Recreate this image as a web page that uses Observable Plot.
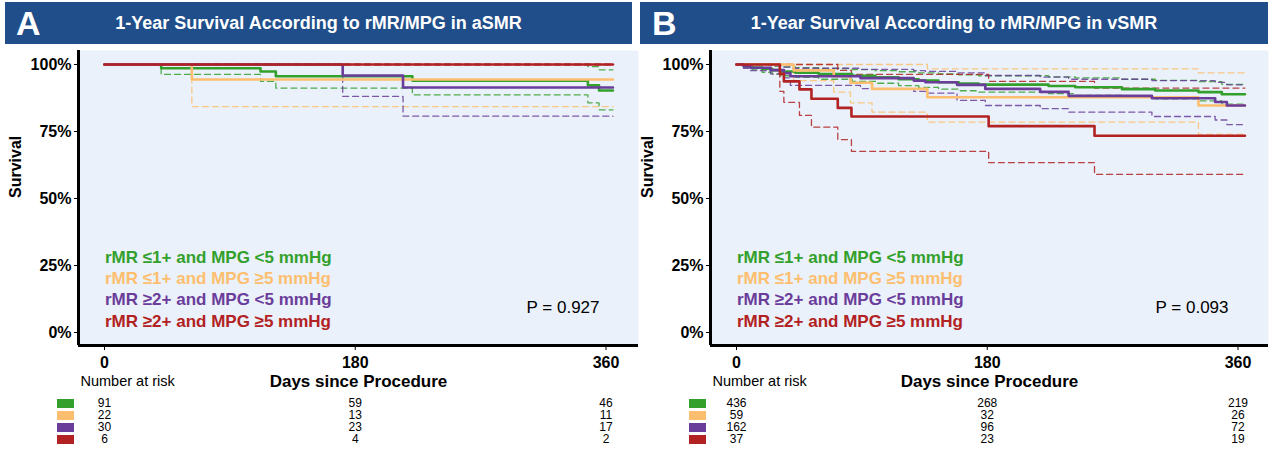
<!DOCTYPE html>
<html>
<head>
<meta charset="utf-8">
<script src="https://cdn.jsdelivr.net/npm/d3@7"></script>
<script src="https://cdn.jsdelivr.net/npm/@observablehq/plot@0.6"></script>
<style>
  body { margin: 0; background: #fff; }
  #fig { position: relative; width: 1273px; height: 449px; overflow: hidden; font-family: "Liberation Sans", Arial, sans-serif; }
  .band { position: absolute; top: 2px; height: 42px; background: #1f4e8a; color: #fff; }
  .band .letter { position: absolute; top: 0; height: 42px; line-height: 42px; font-size: 34px; font-weight: bold; }
  .band .title { position: absolute; left: 0; right: 0; top: 0; height: 42px; line-height: 42px; text-align: center; font-size: 18px; font-weight: bold; }
  svg { position: absolute; }
</style>
</head>
<body>
<div id="fig"></div>
<script>
// ---------- data ----------
const groups = ["rMR ≤1+ and MPG <5 mmHg", "rMR ≤1+ and MPG ≥5 mmHg", "rMR ≥2+ and MPG <5 mmHg", "rMR ≥2+ and MPG ≥5 mmHg"];
const colors = ["#33A02C", "#FDBF6F", "#6A3D9A", "#B22222"];
const yTicks = [0, 25, 50, 75, 100];
const xTicks = [0, 180, 360];
const riskDays = [0, 180, 360];
const riskA = [[91, 59, 46], [22, 13, 11], [30, 23, 17], [6, 4, 2]];
const riskB = [[436, 268, 219], [59, 32, 26], [162, 96, 72], [37, 23, 19]];
const titleA = "1-Year Survival According to rMR/MPG in aSMR";
const titleB = "1-Year Survival According to rMR/MPG in vSMR";
const pA = "P = 0.927";
const pB = "P = 0.093";

// Panel A (aSMR) Kaplan-Meier curves: days, survival %, lower / upper CI %
const aGreenDay  = [0, 40.7, 112, 123, 221, 347, 355, 365];
const aGreenSurv = [100, 98.6, 97.4, 95.6, 94.0, 92.2, 90.3, 90.3];
const aGreenLow  = [100, 96.3, 93.7, 91.2, 88.7, 85.7, 83.1, 83.1];
const aGreenHigh = [100, 100, 100, 100, 100, 99.2, 98.0, 98.0];

const aOrangeDay  = [0, 62.7, 365];
const aOrangeSurv = [100, 94.4, 94.4];
const aOrangeLow  = [100, 84.3, 84.3];
const aOrangeHigh = [100, 100, 100];

const aPurpleDay  = [0, 171, 214.3, 365];
const aPurpleSurv = [100, 95.9, 91.4, 91.4];
const aPurpleLow  = [100, 88.1, 80.7, 80.7];
const aPurpleHigh = [100, 100, 100, 100];

const aRedDay  = [0, 365];
const aRedSurv = [100, 100];
const aRedLow  = [100, 100];
const aRedHigh = [100, 100];

// Panel B (vSMR)
const bGreenDay  = [0, 5.2, 11.2, 18.4, 25.6, 31.6, 42.3, 59, 83, 99.7, 116.4, 130.8, 145, 159.5, 173.8, 224, 243.2, 276.7, 300.6, 331.6, 348.4, 365];
const bGreenSurv = [100, 99.5, 98.9, 98.4, 97.9, 97.4, 96.9, 96.4, 95.8, 95.2, 94.5, 94.0, 93.4, 92.9, 92.5, 92.0, 91.5, 90.8, 90.3, 89.7, 88.9, 88.9];
const bGreenLow  = [100, 98.9, 98.0, 97.1, 96.4, 95.8, 95.2, 94.5, 93.7, 93.0, 92.1, 91.5, 90.8, 90.2, 89.7, 89.1, 88.5, 87.7, 87.2, 86.4, 85.2, 85.2];
const bGreenHigh = [100, 100, 100, 99.8, 99.4, 99.1, 98.8, 98.5, 98.1, 97.7, 97.3, 96.9, 96.5, 96.1, 95.8, 95.4, 95.0, 94.5, 94.1, 93.6, 92.6, 92.6];

const bOrangeDay  = [0, 41, 69.8, 81.8, 97.3, 137, 331.6, 365];
const bOrangeSurv = [100, 97.8, 95.6, 93.2, 90.9, 87.8, 84.7, 84.7];
const bOrangeLow  = [100, 94.0, 89.7, 85.7, 82.2, 78.5, 73.9, 73.9];
const bOrangeHigh = [100, 100, 100, 100, 100, 98.4, 96.9, 96.9];

const bPurpleDay  = [0, 5, 10, 24.4, 34, 38.7, 89, 127.2, 135.6, 158.3, 178.6, 218, 238.4, 298.2, 343.6, 352, 365];
const bPurpleSurv = [100, 99.4, 98.8, 97.9, 96.8, 95.6, 94.9, 94.0, 93.4, 92.4, 90.9, 89.8, 88.3, 87.4, 86.0, 84.7, 84.7];
const bPurpleLow  = [100, 98.6, 97.7, 96.5, 95.0, 92.2, 91.0, 90.0, 89.3, 86.6, 84.7, 83.5, 82.2, 80.6, 79.3, 77.6, 77.6];
const bPurpleHigh = [100, 100, 100, 99.5, 99.0, 98.6, 98.2, 97.7, 97.4, 96.9, 95.9, 95.3, 94.5, 94.0, 93.3, 92.4, 92.4];

const bRedDay  = [0, 31.1, 34, 45.2, 53.8, 72.7, 82.5, 181, 257, 365];
const bRedSurv = [100, 96.5, 93.7, 90.7, 87.2, 83.8, 80.6, 77.0, 73.4, 73.4];
const bRedLow  = [100, 90.0, 85.9, 81.0, 76.6, 72.0, 67.6, 63.4, 59.0, 59.0];
const bRedHigh = [100, 100, 100, 100, 100, 97.8, 96.3, 93.7, 91.2, 91.2];

// ---------- helpers ----------
const BG = "#EAF1FA";
const FONT = "'Liberation Sans', Arial, sans-serif";
function rows(day, surv, low, high) {
  return day.map((t, i) => ({t, s: surv[i], lo: low[i], hi: high[i]}));
}
const curvesA = [
  rows(aGreenDay, aGreenSurv, aGreenLow, aGreenHigh),
  rows(aOrangeDay, aOrangeSurv, aOrangeLow, aOrangeHigh),
  rows(aPurpleDay, aPurpleSurv, aPurpleLow, aPurpleHigh),
  rows(aRedDay, aRedSurv, aRedLow, aRedHigh)
];
const curvesB = [
  rows(bGreenDay, bGreenSurv, bGreenLow, bGreenHigh),
  rows(bOrangeDay, bOrangeSurv, bOrangeLow, bOrangeHigh),
  rows(bPurpleDay, bPurpleSurv, bPurpleLow, bPurpleHigh),
  rows(bRedDay, bRedSurv, bRedLow, bRedHigh)
];
const rectSymbol = { draw(ctx) { ctx.rect(-8.5, -4.5, 17, 9); } };

function panel(cfg) {
  const fig = document.getElementById("fig");
  const wrap = document.createElement("div");
  wrap.style.cssText = `position:absolute;left:${cfg.left}px;top:0;width:642px;height:449px;`;
  fig.appendChild(wrap);

  const band = document.createElement("div");
  band.className = "band";
  band.style.left = cfg.bandLeft + "px";
  band.style.width = cfg.bandWidth + "px";
  band.innerHTML = `<div class="title"></div><div class="letter"></div>`;
  band.querySelector(".title").textContent = cfg.title;
  band.querySelector(".letter").textContent = cfg.letter;
  band.querySelector(".letter").style.left = cfg.letterLeft + "px";
  wrap.appendChild(band);

  const marks = [Plot.frame({fill: BG, stroke: "none"})];
  cfg.curves.forEach((c, i) => {
    marks.push(Plot.line(c, {x: "t", y: "lo", curve: "step-after", stroke: colors[i], strokeWidth: 1.3, strokeDasharray: "6,4", strokeOpacity: 0.85}));
    marks.push(Plot.line(c, {x: "t", y: "hi", curve: "step-after", stroke: colors[i], strokeWidth: 1.3, strokeDasharray: "6,4", strokeOpacity: 0.85}));
  });
  cfg.curves.forEach((c, i) => {
    marks.push(Plot.line(c, {x: "t", y: "s", curve: "step-after", stroke: colors[i], strokeWidth: 2.6}));
  });
  marks.push(Plot.ruleX([0], {dx: -26, stroke: "black", strokeWidth: 3}));
  marks.push(Plot.ruleY([0], {dy: 13, stroke: "black", strokeWidth: 3}));
  marks.push(Plot.text(["Survival"], {text: d => d, frameAnchor: "left", dx: -63, rotate: -90, lineAnchor: "middle", fontSize: 16, fontWeight: "bold", fill: "black"}));
  marks.push(Plot.text(["Days since Procedure"], {text: d => d, frameAnchor: "bottom", lineAnchor: "middle", dy: 36, fontSize: 17, fontWeight: "bold", fill: "black"}));
  marks.push(Plot.text(["Number at risk"], {text: d => d, frameAnchor: "bottom-left", lineAnchor: "middle", dx: 2, dy: 36, textAnchor: "start", fontSize: 14.5, fontWeight: "normal", fill: "black"}));
  groups.forEach((g, i) => {
    marks.push(Plot.text([g], {text: d => d, frameAnchor: "bottom-left", lineAnchor: "middle", dx: 26.5, dy: -88.3 + i * 21.3, textAnchor: "start", fontSize: 17, fontWeight: "bold", fill: colors[i]}));
  });
  marks.push(Plot.text([cfg.p], {text: d => d, frameAnchor: "bottom-right", lineAnchor: "middle", dx: cfg.pdx, dy: -37.7, textAnchor: "end", fontSize: 17, fontWeight: "normal", fill: "black"}));

  const chart = Plot.plot({
    width: 642, height: 345,
    marginLeft: 78, marginRight: cfg.marginRight, marginTop: 3, marginBottom: 47,
    x: {domain: [0, 360], range: [104, 605.5], ticks: xTicks, tickSize: 5, tickPadding: 6, label: null},
    y: {domain: [0, 100], range: [285, 17], ticks: yTicks, tickFormat: d => d + "%", tickSize: 4, tickPadding: 3, label: null},
    style: {fontFamily: FONT, fontSize: "16px", fontWeight: "bold", color: "black", background: "transparent", overflow: "visible"},
    marks
  });
  chart.style.left = "0px";
  chart.style.top = "47px";
  wrap.appendChild(chart);

  const riskRows = [];
  cfg.risk.forEach((r, i) => r.forEach((n, j) => riskRows.push({g: groups[i], t: riskDays[j], n})));
  const riskMarks = [Plot.text(riskRows, {x: "t", y: "g", text: d => String(d.n), fontSize: 12, fill: "black"})];
  groups.forEach((g, i) => riskMarks.push(Plot.dot([g], {y: d => d, frameAnchor: "left", dx: 65, symbol: rectSymbol, fill: colors[i], stroke: "none"})));
  const table = Plot.plot({
    width: 642, height: 57,
    marginLeft: 0, marginRight: 0, marginTop: 0, marginBottom: 0,
    x: {domain: [0, 360], range: [104, 605.5], axis: null},
    y: {type: "point", domain: groups, range: [10.3, 46.7], padding: 0, axis: null},
    style: {fontFamily: FONT, fontSize: "12px", color: "black", background: "transparent", overflow: "visible"},
    marks: riskMarks
  });
  table.style.left = "0px";
  table.style.top = "392px";
  wrap.appendChild(table);
}

panel({left: 0, letter: "A", title: titleA, bandLeft: 5, bandWidth: 627, letterLeft: 11, marginRight: 4, curves: curvesA, risk: riskA, p: pA, pdx: -39});
panel({left: 632, letter: "B", title: titleB, bandLeft: 8, bandWidth: 628, letterLeft: 12, marginRight: 6, curves: curvesB, risk: riskB, p: pB, pdx: -40});
</script>
</body>
</html>
